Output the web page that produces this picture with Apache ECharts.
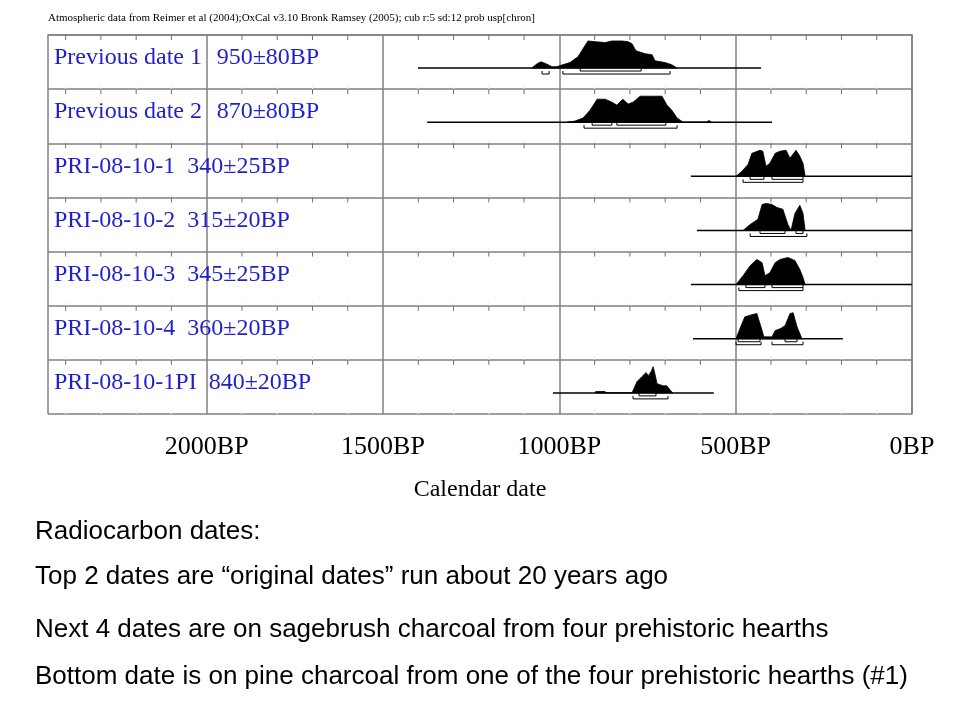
<!DOCTYPE html>
<html><head><meta charset="utf-8">
<script src="https://cdn.jsdelivr.net/npm/echarts@6/dist/echarts.min.js"></script>
<style>html,body{margin:0;padding:0;background:#fff}#c{width:960px;height:720px}</style>
</head><body><div id="c"></div>
<script>
// Labels
const sampleNames = ['Previous date 1','Previous date 2','PRI-08-10-1','PRI-08-10-2','PRI-08-10-3','PRI-08-10-4','PRI-08-10-1PI'];
const sampleDates = ['950±80BP','870±80BP','340±25BP','315±20BP','345±25BP','360±20BP','840±20BP'];
const xTickLabels = [0,500,1000,1500,2000];
const minorTicks = [100,200,300,400,600,700,800,900,1100,1200,1300,1400,1600,1700,1800,1900,2100,2200,2300,2400];
// Baseline ranges [from BP, to BP]
const baselines = [[1401,428],[1375,397],[627,0],[610,0],[627,0],[621,196],[1018,562]];
// Distributions [BP, relative height %]
const dist1 = [[1078,0],[1063,16],[1052,23],[1038,16],[1021,5],[1007,5],[998,9],[970,20],[947,42],[933,71],[919,100],[896,97],[870,94],[851,100],[822,100],[805,97],[794,90],[783,64],[757,53],[737,49],[729,27],[700,20],[681,12],[666,0]];
const dist2 = [[978,0],[956,4],[933,15],[913,44],[893,85],[870,85],[851,74],[837,63],[820,85],[805,67],[791,74],[771,96],[743,96],[709,96],[695,63],[681,44],[666,15],[649,0],[581,0],[578,5],[573,5],[570,0]];
const dist3 = [[499,0],[482,19],[465,44],[454,85],[431,96],[423,93],[414,37],[403,48],[388,85],[374,93],[357,96],[346,67],[329,96],[318,74],[309,48],[303,0]];
const dist4 = [[479,0],[459,22],[437,41],[425,96],[414,100],[397,96],[383,85],[366,78],[352,22],[343,0],[332,63],[318,93],[309,63],[303,0]];
const dist5 = [[499,0],[479,33],[459,70],[440,93],[425,81],[417,33],[403,44],[388,81],[374,93],[352,100],[332,89],[318,56],[309,26],[303,0]];
const dist6 = [[499,0],[488,37],[474,81],[454,89],[440,93],[425,30],[420,7],[397,7],[388,30],[374,37],[360,48],[346,93],[337,96],[326,44],[312,0]];
const dist7 = [[899,0],[897,5],[870,5],[868,0],[794,0],[780,41],[766,60],[754,75],[748,63],[740,78],[734,97],[729,71],[723,34],[706,26],[695,26],[686,11],[678,0]];
const dists = [dist1,dist2,dist3,dist4,dist5,dist6,dist7];
// Highest probability ranges: [68% ranges, 95% ranges]
const hpd68 = [[[941,768]],[[907,851],[837,698]],[[459,420],[397,309]],[[431,360],[329,309]],[[471,417],[397,309]],[[493,431],[360,326]],[[774,726]]];
const hpd95 = [[[1049,1029],[990,686]],[[930,666]],[[479,309]],[[459,298]],[[491,309]],[[499,428],[397,309]],[[791,692]]];

const BASE = 0.61, HSCALE = 0.5/100;
const serif = '"Liberation Serif","DejaVu Serif",serif';
const sans = '"Liberation Sans",Arial,sans-serif';
const chart = echarts.init(document.getElementById('c'));

function rowItem(params, api){
  const r = params.dataIndex;
  const y0 = r + BASE;
  const kids = [];
  const b = baselines[r];
  const p1 = api.coord([b[0], y0]), p2 = api.coord([b[1], y0]);
  kids.push({type:'line', shape:{x1:p1[0],y1:p1[1],x2:p2[0],y2:p2[1]}, style:{stroke:'#000',lineWidth:1.5}});
  const pts = dists[r].map(d => api.coord([d[0], y0 - d[1]*HSCALE]));
  kids.push({type:'polygon', shape:{points:pts}, style:{fill:'#000',stroke:'#000',lineWidth:0.8}});
  [[hpd68[r],3],[hpd95[r],6]].forEach(([rs,off])=>{
    rs.forEach(rg=>{
      const a = api.coord([rg[0], y0]), c = api.coord([rg[1], y0]);
      const yy = a[1]+off;
      kids.push({type:'polyline', shape:{points:[[a[0],yy-3],[a[0],yy],[c[0],yy],[c[0],yy-3]]}, style:{stroke:'#000',fill:null,lineWidth:1}});
    });
  });
  const tl = api.coord([2450, r]);
  const txtStyle = {fill:'#1f1fcc', font:'24px '+serif, textVerticalAlign:'middle'};
  if (r < 2) {
    kids.push({type:'text', x:tl[0]+6, y:tl[1]+23, style:Object.assign({text:sampleNames[r]},txtStyle)});
    const g = api.coord([2000, r]);
    kids.push({type:'text', x:g[0]+10, y:tl[1]+23, style:Object.assign({text:sampleDates[r]},txtStyle)});
  } else {
    kids.push({type:'text', x:tl[0]+6, y:tl[1]+23, style:Object.assign({text:sampleNames[r]+'  '+sampleDates[r]},txtStyle)});
  }
  return {type:'group', children:kids};
}
function tickItem(params, api){
  const bp = api.value(0), kids=[];
  for (let r=0;r<7;r++){
    const t = api.coord([bp, r]), bt = api.coord([bp, r+1]);
    kids.push({type:'line', shape:{x1:t[0],y1:t[1],x2:t[0],y2:t[1]+5}, style:{stroke:'#707070',lineWidth:1}});
    kids.push({type:'line', shape:{x1:bt[0],y1:bt[1],x2:bt[0],y2:bt[1]-4}, style:{stroke:'#f0f0f0',lineWidth:1}});
  }
  return {type:'group', children:kids};
}

chart.setOption({
  animation:false,
  grid:{left:48,right:48,top:35,bottom:306},
  xAxis:{type:'value',min:0,max:2450,interval:500,inverse:true,
    axisLine:{show:true,lineStyle:{color:'#808080',width:1.5}},axisTick:{show:false},
    splitLine:{show:true,lineStyle:{color:'#808080',width:1.5}},
    axisLabel:{margin:20,showMaxLabel:false,color:'#000',fontFamily:serif,fontSize:26,
      formatter:v=> xTickLabels.indexOf(v)>=0 ? v+'BP' : ''},
    name:'Calendar date',nameLocation:'middle',nameGap:64,
    nameTextStyle:{color:'#000',fontFamily:serif,fontSize:24}},
  yAxis:{type:'value',min:0,max:7,interval:1,inverse:true,
    axisLine:{show:true,lineStyle:{color:'#808080',width:1.5}},axisTick:{show:false},axisLabel:{show:false},
    splitLine:{show:true,lineStyle:{color:'#808080',width:1.5}}},
  series:[
    {type:'custom',renderItem:tickItem,data:minorTicks.map(v=>[v,0]),silent:true},
    {type:'custom',renderItem:rowItem,data:sampleNames.map((n,i)=>[0,i]),silent:true}
  ],
  graphic:[
    {type:'text',left:48,top:13,style:{text:'Atmospheric data from Reimer et al (2004);OxCal v3.10 Bronk Ramsey (2005); cub r:5 sd:12 prob usp[chron]',font:'11px '+serif,fill:'#000'}},
    {type:'text',left:35,top:519,style:{text:'Radiocarbon dates:',font:'26px '+sans,fill:'#000'}},
    {type:'text',left:35,top:564,style:{text:'Top 2 dates are \u201coriginal dates\u201d run about 20 years ago',font:'26px '+sans,fill:'#000'}},
    {type:'text',left:35,top:617,style:{text:'Next 4 dates are on sagebrush charcoal from four prehistoric hearths',font:'26px '+sans,fill:'#000'}},
    {type:'text',left:35,top:664,style:{text:'Bottom date is on pine charcoal from one of the four prehistoric hearths (#1)',font:'26px '+sans,fill:'#000'}}
  ]
});
</script></body></html>
